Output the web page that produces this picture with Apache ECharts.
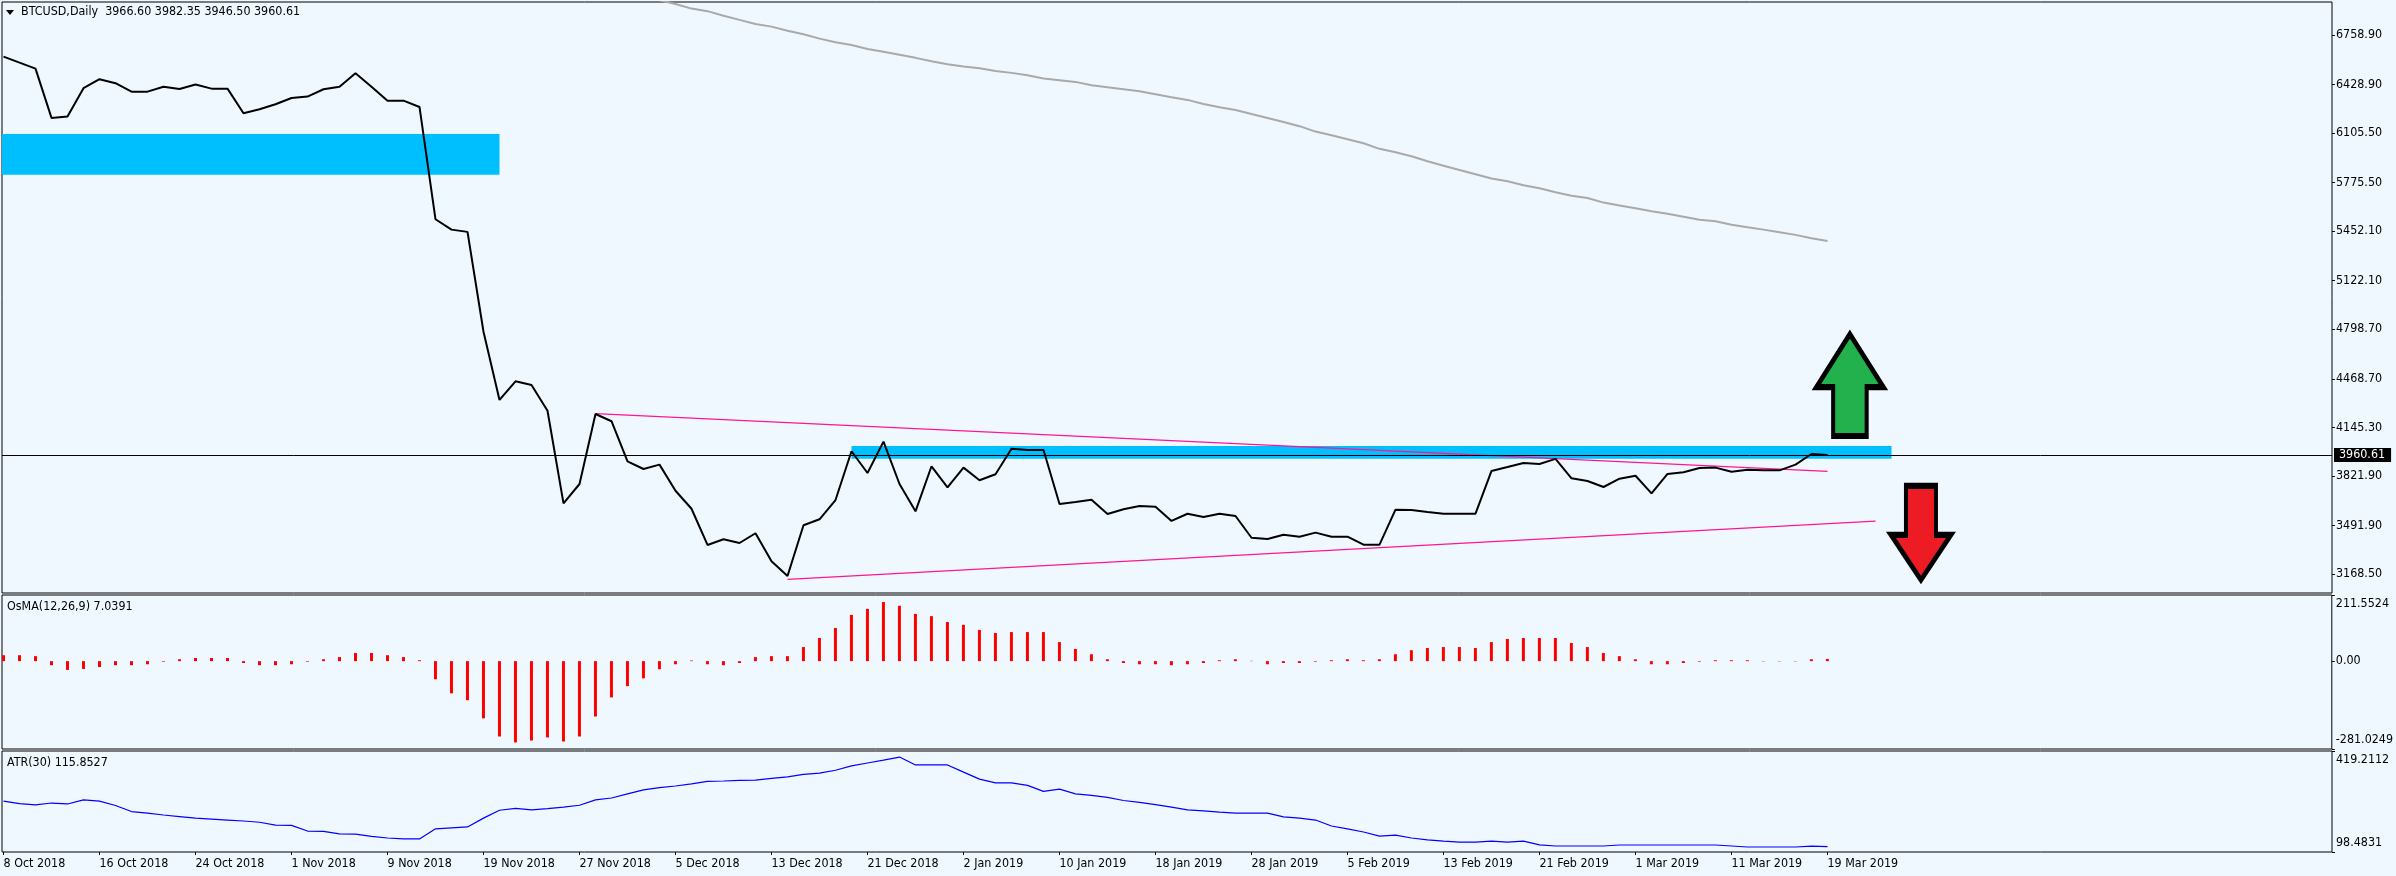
<!DOCTYPE html>
<html>
<head>
<meta charset="utf-8">
<style>html,body{margin:0;padding:0;background:#F0F8FF}#c{width:2396px;height:876px}</style>
<script src="https://cdn.jsdelivr.net/npm/echarts@6/dist/echarts.min.js"></script>
</head>
<body>
<div id="c"></div>
<script>
const closePrice = [6614,6574,6534,6206,6215,6404,6464,6437,6381,6381,6414,6399,6428,6401,6401,6237,6264,6297,6339,6348,6397,6414,6504,6414,6321,6321,6279,5531,5462,5447,4782,4328,4452,4427,4256,3639,3768,4234,4186,3919,3868,3897,3723,3603,3362,3400,3375,3440,3253,3155,3493,3533,3661,3986,3841,4050,3768,3586,3886,3746,3877,3793,3833,4003,3994,3994,3635,3648,3663,3568,3600,3621,3617,3522,3570,3548,3570,3555,3410,3402,3430,3417,3444,3417,3417,3364,3364,3597,3595,3581,3570,3570,3570,3855,3881,3908,3901,3935,3806,3788,3748,3803,3823,3706,3835,3846,3875,3877,3850,3863,3859,3859,3897,3968,3960.61];
const movingAvg = [null,null,null,null,null,null,null,null,null,null,null,null,null,null,null,null,null,null,null,null,null,null,null,null,null,null,null,null,null,null,null,null,null,null,null,null,null,null,null,null,null,6990,6965,6934,6917,6887,6859,6832,6814,6787,6763,6734,6710,6692,6665,6646,6626,6606,6584,6564,6548,6537,6519,6506,6490,6468,6457,6446,6424,6410,6397,6384,6364,6344,6326,6299,6277,6259,6232,6206,6179,6151,6115,6091,6064,6037,6000,5977,5951,5917,5888,5859,5831,5802,5784,5758,5738,5711,5688,5673,5642,5622,5604,5584,5568,5548,5528,5518,5495,5478,5462,5445,5427,5404,5387];
const osma = [19,19,16,-13,-28,-25,-19,-13,-13,-10,-2,6,10,10,10,-6,-13,-13,-10,-2,6,13,26,26,19,13,3,-58,-103,-125,-183,-241,-260,-254,-244,-257,-241,-177,-116,-80,-55,-26,-10,2,-10,-13,-6,13,16,16,45,74,106,148,167,189,177,151,144,125,116,100,90,93,93,93,61,39,22,6,-6,-10,-10,-13,-10,-6,3,6,1,-10,-6,-6,-2,3,6,3,6,22,35,42,45,45,42,61,71,74,74,74,58,45,26,16,6,-10,-10,-6,-2,3,3,3,-1,-1,-1,6,7.04];
const atr = [260,252,248,254,251,264,260,246,227,222,216,211,206,203,200,197,193,184,183,165,164,156,155,148,143,140,140,172,175,178,206,231,237,232,236,241,247,264,270,283,296,303,308,315,323,324,326,327,332,337,345,349,358,372,381,390,400,375,375,375,352,330,318,318,310,291,298,283,278,272,262,256,249,241,232,229,225,222,222,222,210,206,200,181,172,162,149,152,143,137,133,130,130,133,130,133,121,117.5,117.5,117.5,117.5,120.7,120.7,120.7,120.7,120.7,120.7,120.7,117.5,114.4,114.4,114.4,114.4,117,115.85];

const tickLabels = ['8 Oct 2018','16 Oct 2018','24 Oct 2018','1 Nov 2018','9 Nov 2018','19 Nov 2018','27 Nov 2018','5 Dec 2018','13 Dec 2018','21 Dec 2018','2 Jan 2019','10 Jan 2019','18 Jan 2019','28 Jan 2019','5 Feb 2019','13 Feb 2019','21 Feb 2019','1 Mar 2019','11 Mar 2019','19 Mar 2019'];
const tickBars = [0,6,12,18,24,30,36,42,48,54,60,66,72,78,84,90,96,102,108,114];
const priceTicks = ['6758.90','6428.90','6105.50','5775.50','5452.10','5122.10','4798.70','4468.70','4145.30','3821.90','3491.90','3168.50'];
const osmaTicks = ['211.5524','0.00','-281.0249'];
const atrTicks = ['419.2112','98.4831'];
const lastPrice = 3960.61;

const trendUpper = [[37,4236],[114,3852]];
const trendLower = [[49,3133],[117,3521]];
const zoneUpper = [-0.09375,6099,31,5828];
const zoneLower = [53,4021,118,3936];
const arrowUp = [115.4,4427];
const arrowDown = [119.84,3442];

const titleMain = 'BTCUSD,Daily  3966.60 3982.35 3946.50 3960.61';
const titleOsma = 'OsMA(12,26,9) 7.0391';
const titleAtr = 'ATR(30) 115.8527';

const FONT = '"DejaVu Sans Condensed","DejaVu Sans",sans-serif';
const FS = 12.4;
const BG = '#F0F8FF';
const XMIN = -0.09375, XMAX = 145.53;
const withIndex = a => a.map((v,i)=>[i,v]);

function xAx(idx, showLabels){
  return {
    gridIndex: idx, type:'value', min:XMIN, max:XMAX, splitLine:{show:false},
    axisLine:{show:false, onZero:false},
    axisTick:{show:showLabels, length:3, customValues:tickBars, lineStyle:{color:'#000',width:1}},
    axisLabel:{show:showLabels, customValues:tickBars, align:'left', margin:6,
      fontFamily:FONT, fontSize:FS, color:'#000',
      formatter:v=>tickLabels[tickBars.indexOf(Math.round(v))]||''}
  };
}
function yAx(idx, min, max, ticks, label){
  const vals = ticks.map(parseFloat);
  return {
    gridIndex: idx, type:'value', position:'right', min, max, splitLine:{show:false},
    axisLine:{show:false, onZero:false},
    axisTick:{show:true, length:3, customValues:vals, lineStyle:{color:'#000',width:1}},
    axisLabel:Object.assign({show:true, customValues:vals, margin:4, fontFamily:FONT, fontSize:FS, color:'#000',
      formatter:v=>{const k=vals.findIndex(t=>Math.abs(t-v)<1e-6);return k<0?'':ticks[k];}}, label||{})
  };
}
const border = {show:true, borderColor:'#000', borderWidth:1, backgroundColor:BG};
const titleStyle = {fontFamily:FONT, fontSize:FS, fontWeight:'normal', color:'#000', lineHeight:14};
const edgeLabels = {verticalAlignMaxLabel:'bottom', verticalAlignMinLabel:'top', lineHeight:18};
const upPath = 'path://M50 0 L100 52 L75 52 L75 100 L25 100 L25 52 L0 52 Z';
const downPath = 'path://M25 0 L75 0 L75 52 L100 52 L50 100 L0 52 L25 52 Z';

const chart = echarts.init(document.getElementById('c'), null, {renderer:'canvas', width:2396, height:876});
chart.setOption({
  animation:false,
  backgroundColor:BG,
  title:[
    {text:titleMain, left:21, top:5, padding:0, textStyle:titleStyle},
    {text:titleOsma, left:7, top:600, padding:0, textStyle:titleStyle},
    {text:titleAtr, left:7, top:756, padding:0, textStyle:titleStyle}
  ],
  graphic:[{type:'polygon', shape:{points:[[6,10],[14,10],[10,15]]}, style:{fill:'#000'}, z:10}],
  grid:[
    Object.assign({left:2, top:2, width:2330, height:591}, border),
    Object.assign({left:2, top:595, width:2330, height:154}, border),
    Object.assign({left:2, top:751, width:2330, height:101}, border)
  ],
  xAxis:[xAx(0,false), xAx(1,false), xAx(2,true)],
  yAxis:[
    yAx(0, 3042, 6978, priceTicks),
    yAx(1, -281.0249, 211.5524, osmaTicks, edgeLabels),
    yAx(2, 98.4831, 419.2112, atrTicks, edgeLabels)
  ],
  series:[
    {name:'Close', type:'line', xAxisIndex:0, yAxisIndex:0, data:withIndex(closePrice), showSymbol:false, z:5,
      lineStyle:{color:'#000', width:2},
      markArea:{silent:true, z:1, itemStyle:{color:'#00BFFF', opacity:1}, data:[
        [{coord:[zoneUpper[0],zoneUpper[1]]},{coord:[zoneUpper[2],zoneUpper[3]]}],
        [{coord:[zoneLower[0],zoneLower[1]]},{coord:[zoneLower[2],zoneLower[3]]}]
      ]},
      markLine:{silent:true, symbol:'none', z:6, animation:false, lineStyle:{color:'#000', width:1, type:'solid'},
        label:{show:true, position:'end', distance:2, formatter:()=>lastPrice.toFixed(2), color:'#fff', backgroundColor:'#000',
          padding:[1,6,1,5], fontFamily:FONT, fontSize:FS},
        data:[{yAxis:lastPrice}]}
    },
    {name:'MA', type:'line', xAxisIndex:0, yAxisIndex:0, data:withIndex(movingAvg), showSymbol:false, z:3, lineStyle:{color:'#A9A9A9', width:2}},
    {name:'TrendUpper', type:'line', xAxisIndex:0, yAxisIndex:0, data:trendUpper, showSymbol:false, z:4, lineStyle:{color:'#FF1493', width:1.2}},
    {name:'TrendLower', type:'line', xAxisIndex:0, yAxisIndex:0, data:trendLower, showSymbol:false, z:4, lineStyle:{color:'#FF1493', width:1.2}},
    {name:'Up', type:'scatter', xAxisIndex:0, yAxisIndex:0, data:[arrowUp], symbol:upPath, symbolSize:[67,102], z:7, itemStyle:{color:'#22B14C', borderColor:'#000', borderWidth:5, opacity:1}},
    {name:'Down', type:'scatter', xAxisIndex:0, yAxisIndex:0, data:[arrowDown], symbol:downPath, symbolSize:[60,94], z:7, itemStyle:{color:'#ED1C24', borderColor:'#000', borderWidth:5, opacity:1}},
    {name:'OsMA', type:'bar', xAxisIndex:1, yAxisIndex:1, data:withIndex(osma), barWidth:3, itemStyle:{color:'#FF0000'}},
    {name:'ATR', type:'line', xAxisIndex:2, yAxisIndex:2, data:withIndex(atr), showSymbol:false, lineStyle:{color:'#0000FF', width:1.2}}
  ]
});
</script>
</body>
</html>
